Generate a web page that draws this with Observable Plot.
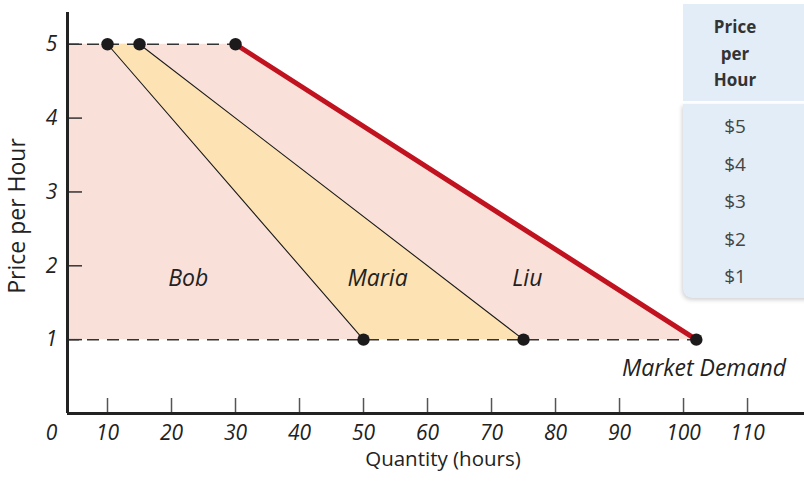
<!DOCTYPE html>
<html><head><meta charset="utf-8">
<script src="https://cdn.jsdelivr.net/npm/d3@7"></script>
<script src="https://cdn.jsdelivr.net/npm/@observablehq/plot@0.6"></script>
<style>
body{margin:0;background:#fff;overflow:hidden}
#wrap{position:relative;width:804px;height:481px;overflow:hidden;font-family:"Open Sans",Lato,sans-serif}
#tbl{position:absolute;left:683px;top:4px;width:150px}
#tbl .hd{background:#e2edf7;height:97px;box-sizing:border-box;padding-top:10px;padding-right:46px;text-align:center;font-weight:bold;font-size:17px;line-height:26.5px;color:#333}
#tbl .bd{background:#e2edf7;margin-top:3px;height:194px;box-sizing:border-box;padding-top:4px;padding-right:46px;text-align:center;font-size:19px;line-height:37.5px;color:#444;border-bottom-left-radius:9px;box-shadow:-1px 2px 4px rgba(0,0,0,0.18)}
</style></head>
<body><div id="wrap"><div id="chart"></div><div id="tbl"><div class="hd"></div><div class="bd"></div></div></div>
<script>
// ---- data ----
const prices = [5, 1];               // price endpoints ($/hour)
const bobQty = [10, 50];             // Bob's demand
const bobMariaQty = [15, 75];        // Bob + Maria
const marketQty = [30, 102];         // Market demand (Bob + Maria + Liu)
const xTicks = [10, 20, 30, 40, 50, 60, 70, 80, 90, 100, 110];
const yTicks = [1, 2, 3, 4, 5];
const curveLabels = ["Bob", "Maria", "Liu"];
const curveLabelQty = [22.6, 52.2, 75.6];
const curveLabelPrice = 1.83;
const marketLabel = "Market Demand";
const tableHeader = ["Price", "per", "Hour"];
const tablePrices = ["$5", "$4", "$3", "$2", "$1"];

const xMin = 3.75, xMax = 118.9;
const font = "'Open Sans', Lato, sans-serif";

const pink = prices.map((p, i) => ({p, x1: xMin, x2: marketQty[i]}));
const yellow = prices.map((p, i) => ({p, x1: bobQty[i], x2: bobMariaQty[i]}));
const line = (qs) => prices.map((p, i) => ({q: qs[i], p}));
const dots = [...line(bobQty), ...line(bobMariaQty), ...line(marketQty)];
const labels = curveLabels.map((t, i) => ({t, q: curveLabelQty[i], p: curveLabelPrice}));
const tick = {fontStyle: "italic", fontSize: 21, fill: "#222"};
const ital = {fontStyle: "italic", fontSize: 23, fill: "#222"};

const chart = Plot.plot({
  width: 804, height: 481,
  marginLeft: 67, marginRight: 0, marginTop: 12, marginBottom: 68,
  x: {domain: [xMin, xMax], label: null},
  y: {domain: [0, 5.43], label: null},
  style: {fontFamily: font, fontSize: "19px", color: "#222", background: "transparent"},
  marks: [
    Plot.areaX(pink, {y: "p", x1: "x1", x2: "x2", fill: "#f9e1da"}),
    Plot.areaX(yellow, {y: "p", x1: "x1", x2: "x2", fill: "#fde2b4"}),
    Plot.ruleY([prices[0]], {x1: xMin, x2: marketQty[0], stroke: "#333", strokeWidth: 1.5, strokeDasharray: "12,8"}),
    Plot.ruleY([prices[1]], {x1: xMin, x2: marketQty[1], stroke: "#333", strokeWidth: 1.5, strokeDasharray: "12,8"}),
    Plot.line(line(bobQty), {x: "q", y: "p", stroke: "#1a1a1a", strokeWidth: 1.1}),
    Plot.line(line(bobMariaQty), {x: "q", y: "p", stroke: "#1a1a1a", strokeWidth: 1.1}),
    Plot.line(line(marketQty), {x: "q", y: "p", stroke: "#c1121f", strokeWidth: 5}),
    Plot.dot(dots, {x: "q", y: "p", r: 6.2, fill: "#1c1a1b"}),
    Plot.axisX({ticks: xTicks, tickSize: -15, text: null, label: null, stroke: "#555", strokeWidth: 1.5}),
    Plot.axisY({ticks: yTicks, tickSize: -15, text: null, label: null, stroke: "#333", strokeWidth: 1.5}),
    Plot.ruleY([0], {stroke: "#222", strokeWidth: 3}),
    Plot.ruleX([xMin], {stroke: "#222", strokeWidth: 3}),
    Plot.text(xTicks, {x: d => d, y: 0, dy: 20, ...tick}),
    Plot.text(yTicks, {x: xMin, y: d => d, dx: -16, ...tick}),
    Plot.text(["0"], {x: 0, y: 0, dx: 8, dy: 20, ...tick}),
    Plot.text(labels, {x: "q", y: "p", text: "t", ...ital}),
    Plot.text([marketLabel], {x: 116, y: 0.607, textAnchor: "end", ...ital}),
    Plot.text(["Quantity (hours)"], {frameAnchor: "bottom", dx: 7, dy: 52, fontSize: 20.5, fill: "#222"}),
    Plot.text(["Price per Hour"], {frameAnchor: "left", textAnchor: "middle", rotate: -90, dx: -49.5, dy: 3, fontSize: 23, fill: "#222"})
  ]
});
document.getElementById("chart").appendChild(chart);
document.querySelector("#tbl .hd").innerHTML = tableHeader.join("<br>");
document.querySelector("#tbl .bd").innerHTML = tablePrices.join("<br>");
</script>
</body></html>
